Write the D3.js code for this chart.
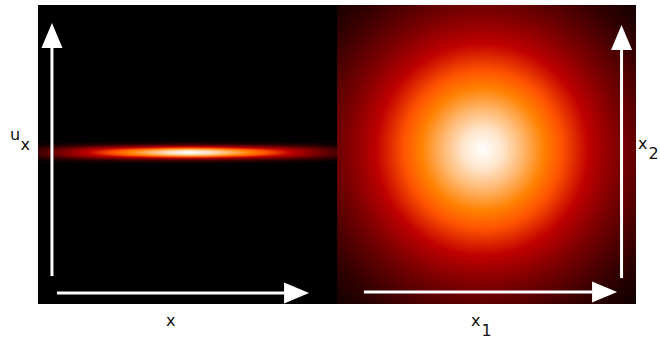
<!DOCTYPE html>
<html>
<head>
<meta charset="utf-8">
<script src="https://cdn.jsdelivr.net/npm/d3@7"></script>
<style>
  html, body { margin: 0; padding: 0; background: #fff; }
  svg { display: block; }
</style>
</head>
<body>
<div id="chart"></div>
<script>
// panel units: each panel is 300 x 300, y grows downward
const panelNames = ['left', 'right'];
const panelLeftEdges = [38, 337];

// left panel: narrow band, separable profile
const bandCenter = [152, 148];
const bandDx = [0, 20, 40, 60, 80, 100, 120, 140, 160, 200];
const bandDxValues = [1.0, 0.95, 0.86, 0.76, 0.65, 0.52, 0.38, 0.24, 0.12, 0.03];
const bandDy = [0, 1, 2, 3, 4, 5, 6, 7, 8, 10, 12];
const bandDyValues = [1.0, 0.98, 0.94, 0.86, 0.74, 0.60, 0.45, 0.30, 0.18, 0.05, 0];

// right panel: round spot, radial profile
const spotCenter = [146, 145];
const spotRadius = [0, 20, 40, 60, 80, 100, 120, 140, 160, 180, 200, 220];
const spotValues = [1.0, 0.95, 0.86, 0.76, 0.66, 0.54, 0.42, 0.31, 0.22, 0.14, 0.08, 0.04];

// arrows per panel: [x1, y1, x2, y2] in panel units
const arrowsLeft = [[14, 272, 14, 18], [19, 289, 272, 289]];
const arrowsRight = [[285.5, 274, 285.5, 20], [27, 288, 281, 288]];

const labels = [
  {main: 'u', sub: 'x', x: 10, y: 140},
  {main: 'x', sub: '', x: 166, y: 326},
  {main: 'x', sub: '1', x: 471, y: 326},
  {main: 'x', sub: '2', x: 638, y: 149}
];

const width = 660, height = 339;
const panelTop = 5, panelSize = 299;

const svg = d3.select('#chart').append('svg')
  .attr('width', width)
  .attr('height', height);

// gist_heat colour map
const heat = d3.scaleLinear()
  .domain([0, 0.5, 2 / 3, 0.75, 1])
  .range(['#000000', '#bf0000', '#ff5500', '#ff8000', '#ffffff'])
  .clamp(true);

const fx = d3.scaleLinear().domain(bandDx).range(bandDxValues).clamp(true);
const fy = d3.scaleLinear().domain(bandDy).range(bandDyValues).clamp(true);
const fr = d3.scaleLinear().domain(spotRadius).range(spotValues).clamp(true);

const fields = {
  left: (u, v) => fx(Math.abs(u - bandCenter[0])) * fy(Math.abs(v - bandCenter[1])),
  right: (u, v) => fr(Math.hypot(u - spotCenter[0], v - spotCenter[1]))
};

panelNames.forEach((name, i) => {
  const x = d3.scaleLinear().domain([0, 300]).range([panelLeftEdges[i], panelLeftEdges[i] + panelSize]);
  const y = d3.scaleLinear().domain([0, 300]).range([panelTop, panelTop + panelSize]);

  // paint the field into a canvas, one pixel per cell
  const canvas = document.createElement('canvas');
  canvas.width = panelSize;
  canvas.height = panelSize;
  const ctx = canvas.getContext('2d');
  const img = ctx.createImageData(panelSize, panelSize);
  for (let py = 0; py < panelSize; py++) {
    for (let px = 0; px < panelSize; px++) {
      const u = x.invert(panelLeftEdges[i] + px + 0.5);
      const v = y.invert(panelTop + py + 0.5);
      const c = d3.rgb(heat(fields[name](u, v)));
      const k = (py * panelSize + px) * 4;
      img.data[k] = c.r;
      img.data[k + 1] = c.g;
      img.data[k + 2] = c.b;
      img.data[k + 3] = 255;
    }
  }
  ctx.putImageData(img, 0, 0);

  svg.append('image')
    .attr('x', x(0))
    .attr('y', y(0))
    .attr('width', panelSize)
    .attr('height', panelSize)
    .attr('href', canvas.toDataURL());

  // white arrows
  const arrows = name === 'left' ? arrowsLeft : arrowsRight;
  const headLen = 25, headHalf = 10.5;
  arrows.forEach(a => {
    const x1 = x(a[0]), y1 = y(a[1]), x2 = x(a[2]), y2 = y(a[3]);
    const ang = Math.atan2(y2 - y1, x2 - x1);
    const bx = x2 - headLen * Math.cos(ang), by = y2 - headLen * Math.sin(ang);
    svg.append('line')
      .attr('x1', x1).attr('y1', y1)
      .attr('x2', bx).attr('y2', by)
      .attr('stroke', '#fff')
      .attr('stroke-width', 3);
    const nx = -Math.sin(ang), ny = Math.cos(ang);
    svg.append('path')
      .attr('d', d3.line()([
        [x2, y2],
        [bx + nx * headHalf, by + ny * headHalf],
        [bx - nx * headHalf, by - ny * headHalf]
      ]) + 'Z')
      .attr('fill', '#fff');
  });
});

// axis labels with subscripts
labels.forEach(l => {
  const t = svg.append('text')
    .attr('font-family', 'DejaVu Sans, sans-serif')
    .attr('font-size', 16)
    .attr('fill', '#111');
  t.append('tspan').attr('x', l.x).attr('y', l.y).text(l.main);
  if (l.sub) {
    t.append('tspan').attr('x', l.x + 10.5).attr('y', l.y + 10).text(l.sub);
  }
});
</script>
</body>
</html>
